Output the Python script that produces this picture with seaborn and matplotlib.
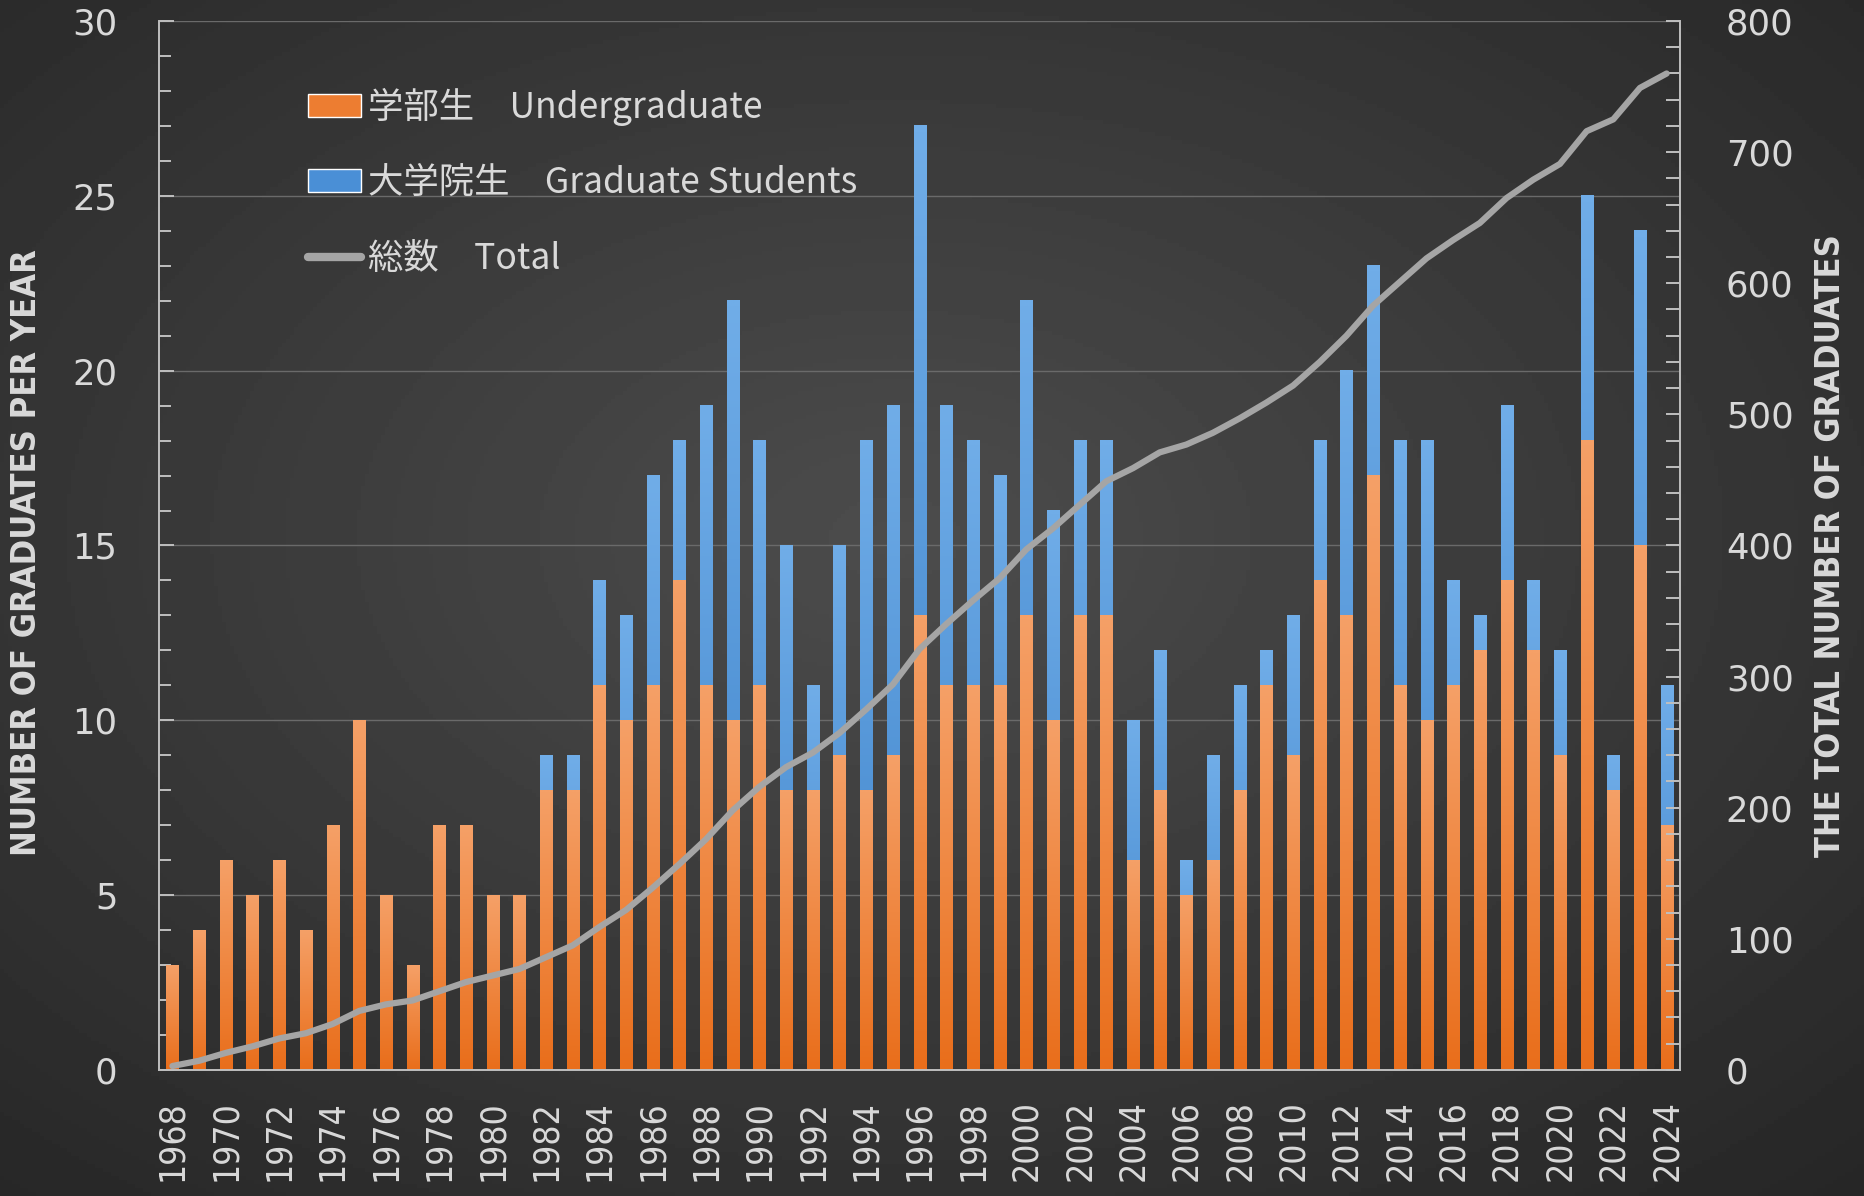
import numpy as np
import pandas as pd
import matplotlib
matplotlib.use('Agg')
import matplotlib.pyplot as plt
import seaborn as sns
from matplotlib import font_manager as fm
from matplotlib.patches import Patch
from matplotlib.lines import Line2D
from matplotlib.ticker import MultipleLocator, FixedLocator

# --- data ---
years = list(range(1968, 2025))
undergrad = [3, 4, 6, 5, 6, 4, 7, 10, 5, 3, 7, 7, 5, 5,
             8, 8, 11, 10, 11, 14, 11, 10, 11, 8,
             8, 9, 8, 9, 13, 11, 11, 11, 13, 10, 13, 13,
             6, 8, 5, 6, 8, 11, 9, 14, 13, 17,
             11, 10, 11, 12, 14, 12, 9, 18, 8, 15, 7]
graduate = [0, 0, 0, 0, 0, 0, 0, 0, 0, 0, 0, 0, 0, 0,
            1, 1, 3, 3, 6, 4, 8, 12, 7, 7,
            3, 6, 10, 10, 14, 8, 7, 6, 9, 6, 5, 5,
            4, 4, 1, 3, 3, 1, 4, 4, 7, 6,
            7, 8, 3, 1, 5, 2, 3, 7, 1, 9, 4]
cumulative = [3, 7, 13, 18, 24, 28, 35, 45, 50, 53, 60, 67, 72, 77,
              86, 95, 109, 122, 139, 157, 176, 198, 216, 231,
              242, 257, 275, 294, 321, 340, 358, 375, 397, 413, 431, 449,
              459, 471, 477, 486, 497, 509, 522, 540, 560, 583,
              601, 619, 633, 646, 665, 679, 691, 716, 725, 749, 760]

labels = ['学部生\u3000Undergraduate', '大学院生\u3000Graduate Students', '総数\u3000Total']

df = pd.DataFrame({'year': [str(y) for y in years],
                   'undergrad': undergrad, 'graduate': graduate})
df['total'] = df['undergrad'] + df['graduate']

ORANGE = '#ED7D31'
BLUE = '#4A8FD6'
GRAY = '#A5A5A5'
TXT = '#D9D9D9'
CJK = ['Noto Sans CJK JP', 'DejaVu Sans']


def pick_condensed(bold):
    """Look for an installed condensed / narrow face, return its file or None."""
    best, best_score = None, -1e9
    for f in fm.fontManager.ttflist:
        low = (f.name + ' ' + f.fname).lower()
        cond = (f.stretch in ('condensed', 'semi-condensed', 'extra-condensed', 'ultra-condensed')
                or 'condensed' in low or 'narrow' in low)
        if not cond or 'italic' in low or 'oblique' in low or f.style != 'normal':
            continue
        w = f.weight if isinstance(f.weight, int) else fm.weight_dict.get(f.weight, 400)
        score = -abs(w - (700 if bold else 400))
        if 'extra' in low or 'ultra' in low:
            score -= 150
        if 'semi' in low:
            score -= 60
        if score > best_score:
            best, best_score = f.fname, score
    return best


cond_bold = pick_condensed(True)
cond_reg = pick_condensed(False)


def fprops(path, size, bold=False):
    if path:
        return fm.FontProperties(fname=path, size=size)
    return fm.FontProperties(family='DejaVu Sans', size=size,
                             weight='bold' if bold else 'normal')


sns.set_style('dark')
plt.rcParams['font.family'] = ['DejaVu Sans']

fig = plt.figure(figsize=(18.65, 11.96), dpi=100)

# radial dark background
bg = fig.add_axes([0, 0, 1, 1], zorder=-10)
yy, xx = np.mgrid[0:1:300j, 0:1:470j]
r = np.sqrt(((xx - 0.48) / 0.75) ** 2 + ((yy - 0.45) / 0.75) ** 2)
shade = np.clip(0.30 - 0.15 * r, 0.14, 0.30)
bg.imshow(shade, cmap='gray', vmin=0, vmax=1, extent=[0, 1, 0, 1], aspect='auto')
bg.axis('off')

ax = fig.add_axes([0.0853, 0.1054, 0.8155, 0.8770])
ax.patch.set_alpha(0)

sns.barplot(data=df, x='year', y='total', color=BLUE, saturation=1,
            width=0.45, errorbar=None, ax=ax)
sns.barplot(data=df, x='year', y='undergrad', color=ORANGE, saturation=1,
            width=0.45, errorbar=None, ax=ax)

# soft vertical gradient on each bar
shades = {'b': ('#70ADE8', '#3A80C8'), 'o': ('#F5A067', '#E96E1B')}
for i, p in enumerate(list(ax.patches)):
    h = p.get_height()
    if h <= 0:
        continue
    fc = p.get_facecolor()
    key = 'b' if fc[2] > fc[0] else 'o'
    top, bot = [np.array(matplotlib.colors.to_rgb(c)) for c in shades[key]]
    t = np.linspace(0, 1, 64)[:, None, None]
    grad = top * (1 - t) + bot * t
    ax.imshow(grad, extent=[p.get_x(), p.get_x() + p.get_width(), p.get_y(), p.get_y() + h],
              aspect='auto', origin='upper', zorder=2 + i * 1e-4, interpolation='bilinear')
    p.set_alpha(0)

ax.set_xlim(-0.5, len(years) - 0.5)
ax.set_ylim(0, 30)
ax.set_xlabel('')

# left axis
ax.yaxis.set_major_locator(MultipleLocator(5))
ax.yaxis.set_minor_locator(MultipleLocator(1))
ax.tick_params(axis='y', which='major', direction='in', length=11, width=1.4,
               color='#BFBFBF', labelsize=25.5, labelcolor=TXT, pad=30)
ax.tick_params(axis='y', which='minor', direction='in', length=8.5, width=1.4, color='#BFBFBF')
ax.grid(axis='y', which='major', color='#6A6A6A', linewidth=1.0)
ax.grid(axis='x', visible=False)
ax.set_axisbelow(True)

# bottom axis
ax.set_xticks(range(0, len(years), 2))
ax.set_xticklabels([str(y) for y in years[::2]], rotation=90, color=TXT,
                   fontproperties=fprops(cond_reg, 25.5 if cond_reg else 24))
ax.xaxis.set_minor_locator(FixedLocator(np.arange(-0.5, len(years), 1)))
ax.tick_params(axis='x', which='major', length=0, pad=22)
ax.tick_params(axis='x', which='minor', direction='in', length=8, width=1.4, color='#BFBFBF')

for side in ['left', 'bottom', 'right']:
    ax.spines[side].set_visible(True)
    ax.spines[side].set_color('#BFBFBF')
    ax.spines[side].set_linewidth(1.4)
ax.spines['top'].set_visible(False)

# right axis: cumulative total
ax2 = ax.twinx()
sns.lineplot(x=np.arange(len(years)), y=cumulative, color=GRAY, linewidth=4.5,
             solid_capstyle='round', ax=ax2, zorder=5)
ax2.set_xlim(-0.5, len(years) - 0.5)
ax2.set_ylim(0, 800)
ax2.yaxis.set_major_locator(MultipleLocator(100))
ax2.yaxis.set_minor_locator(MultipleLocator(20))
ax2.tick_params(axis='y', which='both', direction='in', length=10, width=1.4,
                color='#BFBFBF', labelsize=25.5, labelcolor=TXT, pad=33)
ax2.grid(False)
for s in ax2.spines.values():
    s.set_visible(False)

# axis titles, sized so their length matches the reference (~606 px)
ylab_l = ax.set_ylabel('NUMBER OF GRADUATES PER YEAR', color=TXT, va='center',
                       fontproperties=fprops(cond_bold, 26, bold=True))
ax.yaxis.set_label_coords(-0.0874, 0.493)
ylab_r = ax2.set_ylabel('THE TOTAL NUMBER OF GRADUATES', color=TXT, rotation=90,
                        va='center', fontproperties=fprops(cond_bold, 26, bold=True))
ax2.yaxis.set_label_coords(1.099, 0.4995)
fig.canvas.draw()
for lab, target in ((ylab_l, 606), (ylab_r, 624)):
    ext = lab.get_window_extent()
    lab.set_fontsize(lab.get_fontsize() * target / ext.height)

handles = [Patch(facecolor=ORANGE), Patch(facecolor=BLUE),
           Line2D([0], [0], color=GRAY, linewidth=6, solid_capstyle='round')]
leg = ax2.legend(handles, labels, loc='upper left', bbox_to_anchor=(0.077, 0.967),
                 frameon=False, prop={'family': CJK, 'size': 25.5},
                 handlelength=1.5, handleheight=0.62, handletextpad=0.2,
                 labelspacing=1.12)
for t in leg.get_texts():
    t.set_color(TXT)

fig.savefig('out.png', dpi=100)
